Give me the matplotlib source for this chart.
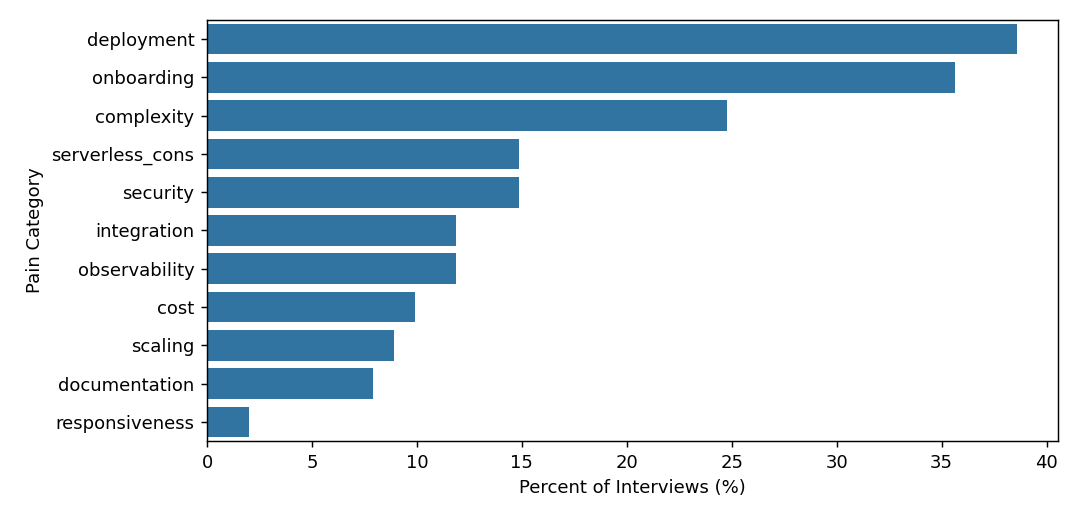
import pandas as pd
import seaborn as sns
import matplotlib
matplotlib.use("Agg")
import matplotlib.pyplot as plt

categories = ["deployment", "onboarding", "complexity", "serverless_cons", "security",
              "integration", "observability", "cost", "scaling", "documentation",
              "responsiveness"]
counts = [39, 36, 25, 15, 15, 12, 12, 10, 9, 8, 2]
n_interviews = 101
percent = [100.0 * c / n_interviews for c in counts]

df = pd.DataFrame({"category": categories, "percent": percent})

fig, ax = plt.subplots(figsize=(1080 / 130, 4.0), dpi=130)
sns.barplot(data=df, y="category", x="percent", ax=ax)
ax.set_xlabel("Percent of Interviews (%)")
ax.set_ylabel("Pain Category")
fig.subplots_adjust(left=0.1917, right=0.9796, top=0.9615, bottom=0.152)
fig.savefig("out.png", dpi=130)
